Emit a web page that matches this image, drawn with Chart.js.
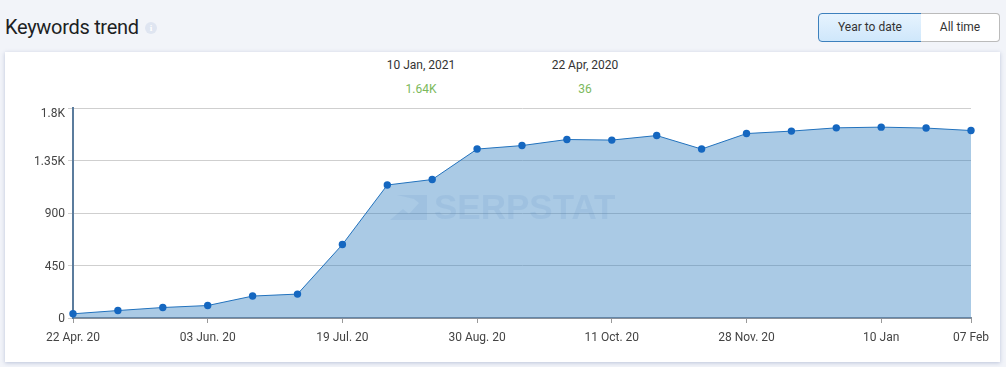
<!DOCTYPE html>
<html>
<head>
<meta charset="utf-8">
<script src="https://cdn.jsdelivr.net/npm/chart.js@4"></script>
<style>
html,body{margin:0;padding:0;width:1006px;height:367px;overflow:hidden;background:#f2f4f9;font-family:Roboto,sans-serif;}
.abs{position:absolute;}
#card{left:5px;top:52px;width:995px;height:310px;background:#fff;box-shadow:0 1px 4px rgba(120,135,180,.45);}
#wrap{left:0;top:0;width:1006px;height:367px;}
#title{left:5px;top:13px;font-size:20px;line-height:28px;font-weight:400;color:#1d1f24;letter-spacing:-.3px;}
#info{left:145px;top:22px;width:12px;height:12px;border-radius:50%;background:#dfe5f1;color:#fff;font:bold 9px/12px "Liberation Serif",serif;text-align:center;}
.btn{top:13px;height:27px;line-height:27px;font-size:12px;text-align:center;color:#333;box-sizing:content-box;}
#b1{left:818px;width:102px;border:1px solid #3d80bd;border-radius:4px 0 0 4px;background:linear-gradient(#e6f3fe,#cfe7fb);}
#b2{left:921px;width:78px;border:1px solid #bbb;border-left:none;border-radius:0 4px 4px 0;background:#fff;}
.lbl{font-size:12px;line-height:16px;text-align:center;width:120px;color:#333;}
.grn{color:#7cb95c;}
#wm{left:434px;top:188px;font:bold 35px/38px "Liberation Sans",Arial,sans-serif;letter-spacing:0;color:rgba(70,130,190,.11);}
#wmi{left:389px;top:194px;}
</style>
</head>
<body>
<div class="abs" id="card"></div>
<div class="abs" id="title">Keywords trend</div>
<div class="abs" id="info">i</div>
<div class="abs btn" id="b1">Year to date</div>
<div class="abs btn" id="b2">All time</div>
<div class="abs lbl" style="left:361px;top:57px">10 Jan, 2021</div>
<div class="abs lbl grn" style="left:361px;top:81px">1.64K</div>
<div class="abs lbl" style="left:525px;top:57px">22 Apr, 2020</div>
<div class="abs lbl grn" style="left:525px;top:81px">36</div>
<div class="abs" id="wrap"><canvas id="c" width="1006" height="367"></canvas></div>
<div class="abs" id="wm">SERPSTAT</div>
<svg class="abs" id="wmi" width="40" height="27" viewBox="0 0 40 27"><path d="M8 1H38V26H1L14 15L20 20L30 9L25 5Z" fill="rgba(70,130,190,.11)"/></svg>
<script>
const categories = ['22 Apr. 20','','','03 Jun. 20','','','19 Jul. 20','','','30 Aug. 20','','','11 Oct. 20','','','28 Nov. 20','','','10 Jan','','07 Feb'];
const keywords = [36,64,90,107,188,205,630,1140,1187,1448,1478,1530,1525,1564,1448,1581,1602,1630,1636,1628,1607];
const yTicks = [0,450,900,1350,1800];
const yTickLabels = {0:'0',450:'450',900:'900',1350:'1.35K',1800:'1.8K'};

new Chart(document.getElementById('c'), {
  type: 'line',
  data: {
    labels: categories,
    datasets: [{
      data: keywords,
      borderColor: '#2272bd',
      borderWidth: 1,
      backgroundColor: 'rgba(42,122,190,0.4)',
      fill: 'origin',
      tension: 0,
      pointRadius: 3.7,
      pointBorderWidth: 0,
      pointBackgroundColor: '#1567c0',
      clip: false
    }]
  },
  options: {
    responsive: false,
    animation: false,
    events: [],
    layout: {padding: {left: 0, right: 35, top: 108, bottom: 0}},
    plugins: {legend: {display: false}, title: {display: false}, tooltip: {enabled: false}},
    scales: {
      x: {
        type: 'category',
        offset: false,
        grid: {drawOnChartArea: false, drawTicks: true, tickLength: 5, color: '#999', lineWidth: 1},
        border: {display: true, color: '#8a9099', width: 2},
        ticks: {autoSkip: false, maxRotation: 0, padding: 8, color: '#444', font: {family: 'Roboto', size: 12}},
        afterBuildTicks(s) { s.ticks = s.ticks.filter(t => categories[t.value]); },
        afterFit(s) { s.height = 49; s.paddingLeft = 0; s.paddingRight = 0; }
      },
      y: {
        min: 0, max: 1800,
        afterBuildTicks(s) { s.ticks = yTicks.map(v => ({value: v})); },
        grid: {color: '#cfcfcf', lineWidth: 1, drawTicks: true, tickLength: 5},
        border: {display: true, color: '#5b7c9d', width: 2},
        ticks: {
          padding: 3, color: '#444', labelOffset: 1,
          font: c => ({family: 'Roboto', size: 12, lineHeight: c.tick && c.tick.value === 1800 ? '10px' : 1.2}),
          callback: v => v === 1800 ? ['', yTickLabels[v]] : yTickLabels[v]
        },
        afterFit(s) { s.width = 73; s.paddingTop = 0; s.paddingBottom = 0; }
      }
    }
  }
});
</script>
</body>
</html>
